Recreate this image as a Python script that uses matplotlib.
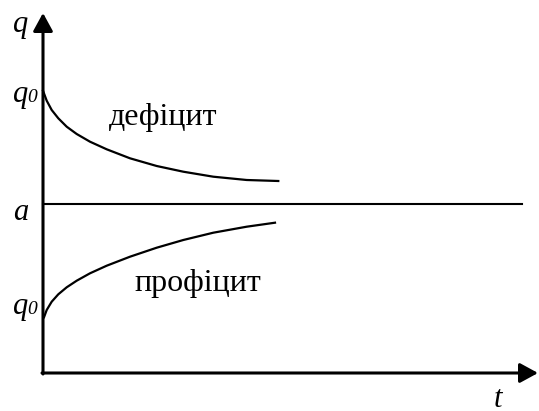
import matplotlib
matplotlib.use("Agg")
import matplotlib.pyplot as plt

plt.rcParams['font.family'] = 'Liberation Serif'

# schematic values (origin at axis crossing)
deficit_t = [0, 3.7, 8.7, 15.3, 23.7, 33.7, 47, 63.7, 87, 113.7, 140.3, 170.3, 203.7, 235.3]
deficit_q = [282.3, 272.3, 263, 254.7, 246.3, 239, 231.3, 223.7, 214.7, 207, 201.3, 196.3, 193, 192]
profit_t = [1, 3.7, 8.7, 15.3, 23.7, 33.7, 47, 63.7, 87, 113.7, 140.3, 170.3, 203.7, 232]
profit_q = [55.7, 63, 71.3, 78.7, 85.7, 92.3, 99.7, 107.3, 116.3, 125.3, 133, 140.3, 146.3, 150.3]
level_a = 168.5
t_end = 479

fig = plt.figure(figsize=(5.39, 4.11), dpi=100)
ax = fig.add_axes([0, 0, 1, 1])
ax.set_xlim(-43, 496)
ax.set_ylim(-38, 373)
ax.axis('off')

# axes with arrows
arrow = dict(arrowstyle='-|>,head_length=1.1,head_width=0.6',
             lw=2.2, color='black', shrinkA=0, shrinkB=0)
ax.annotate('', xy=(0, 360), xytext=(0, -1), arrowprops=arrow)
ax.annotate('', xy=(495, 0), xytext=(-1, 0), arrowprops=arrow)

ax.plot([0, t_end], [level_a, level_a], color='black', lw=1.5)
ax.plot(deficit_t, deficit_q, color='black', lw=1.6)
ax.plot(profit_t, profit_q, color='black', lw=1.6)

ax.text(120, 256, 'дефіцит', fontsize=23, ha='center', va='center')
ax.text(154.5, 90, 'профіцит', fontsize=23, ha='center', va='center')

lab = dict(fontsize=22, style='italic', va='baseline', ha='left')
sub = dict(fontsize=14, style='italic', va='baseline', ha='left')
ax.text(-30, 341, 'q', **lab)
ax.text(-30, 271, 'q', **lab)
ax.text(-16, 271, '0', **sub)
ax.text(-30, 153, 'a', **lab)
ax.text(-30, 59, 'q', **lab)
ax.text(-16, 59, '0', **sub)
ax.text(451, -34, 't', **lab)

fig.savefig('out.png', dpi=100)
